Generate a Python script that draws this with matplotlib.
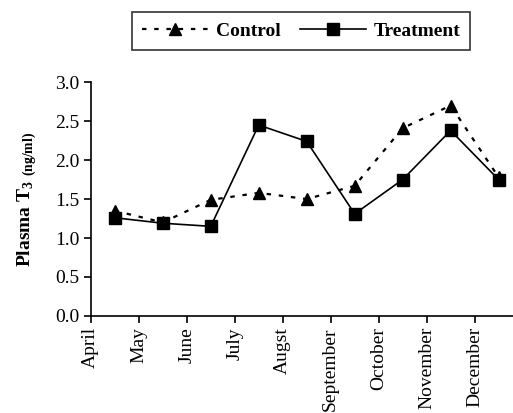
import numpy as np
from matplotlib import pyplot as plt

plt.rcParams['font.family'] = ['Liberation Serif', 'DejaVu Serif']

months = ['April', 'May', 'June', 'July', 'Augst', 'September',
          'October', 'November', 'December']
control = [1.35, 1.20, 1.49, 1.58, 1.50, 1.67, 2.41, 2.70, 1.78]
treatment = [1.26, 1.19, 1.15, 2.45, 2.24, 1.31, 1.75, 2.38, 1.75]

fig = plt.figure(figsize=(5.13, 4.13), dpi=100)
ax = fig.add_axes([0.177, 0.235, 0.823, 0.566])

x = np.arange(len(months)) + 0.5
ax.plot(x, control, ls=(0, (2, 3.5)), lw=1.6, c='black', marker='^',
        ms=9, label='Control', clip_on=False)
ax.plot(x, treatment, ls='-', lw=1.2, c='black', marker='s',
        ms=9, label='Treatment', clip_on=False)

ax.set_xlim(0, 8.8)
ax.set_ylim(0, 3.0)
ax.set_yticks(np.arange(0, 3.01, 0.5))
ax.set_yticklabels(['%.1f' % v for v in np.arange(0, 3.01, 0.5)], fontsize=14)
ax.set_xticks(np.arange(len(months)))
ax.set_xticklabels(months, rotation=90, fontsize=14)
ax.tick_params(direction='out', length=5, width=1.2, colors='black', pad=3)
for s in ['top', 'right']:
    ax.spines[s].set_visible(False)
for s in ['left', 'bottom']:
    ax.spines[s].set_linewidth(1.2)

ax.set_ylabel(r'Plasma T$_{\mathregular{3}}$ $_{\mathregular{(ng/ml)}}$', fontsize=14,
              fontweight='bold', labelpad=12)

leg = fig.legend(loc='center', bbox_to_anchor=(0.587, 0.925), ncol=2,
                 prop={'weight': 'bold', 'size': 14}, frameon=True, fancybox=False,
                 edgecolor='black', handlelength=3.4, columnspacing=1.0,
                 borderpad=0.5, handletextpad=0.4, borderaxespad=0)
leg.get_frame().set_linewidth(1.2)

fig.savefig('out.png', dpi=100)
